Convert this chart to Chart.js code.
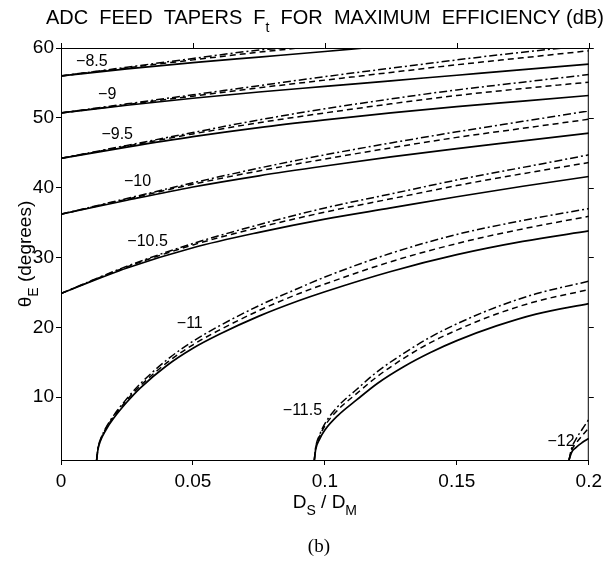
<!DOCTYPE html>
<html><head><meta charset="utf-8">
<script src="https://cdn.jsdelivr.net/npm/chart.js@4.4.1/dist/chart.umd.min.js"></script>
<style>html,body{margin:0;padding:0;background:#fff}</style>
</head><body>
<canvas id="c" width="607" height="563"></canvas>
<script>
// ---- data ----
const xTicks = [0, 0.05, 0.1, 0.15, 0.2];
const xTickLabels = ['0', '0.05', '0.1', '0.15', '0.2'];
const yTicks = [10, 20, 30, 40, 50, 60];
const xGrid = [0, 0.025, 0.05, 0.075, 0.1, 0.125, 0.15, 0.175, 0.2];

// level -8.5
const x85s = [0, 0.025, 0.05, 0.075, 0.1, 0.115];
const y85s = [56.0, 57.0, 57.9, 58.7, 59.5, 60.0];
const x85d = [0, 0.025, 0.05, 0.075, 0.09];
const y85d = [56.0, 57.15, 58.3, 59.4, 60.0];
const x85c = [0, 0.025, 0.05, 0.075, 0.085];
const y85c = [56.0, 57.25, 58.5, 59.7, 60.0];
// level -9
const y90s = [50.7, 51.8, 52.8, 53.7, 54.5, 55.3, 56.1, 56.9, 57.7];
const y90d = [50.7, 51.9, 53.1, 54.3, 55.4, 56.5, 57.6, 58.6, 59.6];
const x90c = [0, 0.025, 0.05, 0.075, 0.1, 0.125, 0.15, 0.175, 0.19];
const y90c = [50.7, 52.0, 53.3, 54.6, 55.9, 57.1, 58.3, 59.4, 60.0];
// level -9.5
const y95s = [44.2, 45.8, 47.3, 48.6, 49.7, 50.7, 51.6, 52.4, 53.2];
const y95d = [44.2, 45.95, 47.7, 49.3, 50.7, 52.0, 53.2, 54.2, 55.1];
const y95c = [44.2, 46.05, 47.9, 49.7, 51.3, 52.7, 54.0, 55.1, 56.2];
// level -10
const y100s = [36.2, 38.2, 40.1, 41.7, 43.1, 44.4, 45.6, 46.7, 47.8];
const y100d = [36.2, 38.35, 40.5, 42.4, 44.1, 45.7, 47.2, 48.5, 49.8];
const y100c = [36.2, 38.45, 40.7, 42.8, 44.7, 46.4, 48.0, 49.5, 51.0];
// level -10.5
const y105s = [24.85, 28.5, 31.4, 33.6, 35.5, 37.1, 38.7, 40.2, 41.6];
const y105d = [24.85, 28.65, 31.8, 34.3, 36.5, 38.4, 40.3, 42.0, 43.6];
const y105c = [24.85, 28.75, 32.0, 34.7, 37.1, 39.1, 41.1, 42.9, 44.7];
// level -11
const x110 = [0.0135, 0.014, 0.015, 0.017, 0.02, 0.025, 0.03, 0.04, 0.05, 0.06, 0.075, 0.09, 0.1, 0.125, 0.15, 0.175, 0.2];
const y110s = [1, 2.5, 3.8, 5.3, 7.0, 9.3, 11.3, 14.5, 17.0, 19.0, 21.6, 23.8, 25.1, 28.0, 30.4, 32.3, 33.8];
const y110d = [1, 2.6, 3.9, 5.5, 7.2, 9.6, 11.6, 14.9, 17.5, 19.6, 22.4, 24.8, 26.2, 29.4, 32.0, 34.1, 35.9];
const y110c = [1, 2.7, 4.0, 5.6, 7.4, 9.8, 11.9, 15.3, 18.0, 20.2, 23.1, 25.6, 27.2, 30.6, 33.3, 35.3, 37.0];
// level -11.5
const x115 = [0.096, 0.0965, 0.098, 0.1, 0.105, 0.112, 0.12, 0.13, 0.14, 0.15, 0.165, 0.18, 0.2];
const y115s = [1, 2.5, 4.0, 5.3, 7.4, 9.6, 12.0, 14.4, 16.4, 18.1, 20.2, 21.9, 23.4];
const y115d = [1, 2.7, 4.4, 5.9, 8.2, 10.5, 13.0, 15.6, 17.8, 19.6, 21.9, 23.7, 25.4];
const y115c = [1, 2.8, 4.6, 6.2, 8.7, 11.1, 13.7, 16.3, 18.6, 20.5, 22.9, 24.8, 26.6];
// level -12
const x120 = [0.1925, 0.1935, 0.195, 0.1975, 0.2];
const y120s = [1, 2.1, 2.75, 3.5, 4.1];
const y120d = [1, 2.4, 3.3, 4.5, 5.6];
const y120c = [1, 2.7, 3.9, 5.4, 6.8];

// contour labels: text and anchor in data coordinates
const levelText = ['\u22128.5', '\u22129', '\u22129.5', '\u221210', '\u221210.5', '\u221211', '\u221211.5', '\u221212'];
const levelLabelX = [0.0117, 0.0175, 0.0213, 0.029, 0.0328, 0.0488, 0.0915, 0.1895];
const levelLabelY = [58.1, 53.3, 47.6, 40.9, 32.25, 20.55, 8.1, 3.7];

// ---- build datasets ----
const pts = (xs, ys) => ys.map((y, i) => ({x: xs[i], y: y}));
const DASH = {s: [], d: [6, 4], c: [8, 3, 2, 3]};
const series = [
  [x85s, y85s, 's'], [x85d, y85d, 'd'], [x85c, y85c, 'c'],
  [xGrid, y90s, 's'], [xGrid, y90d, 'd'], [x90c, y90c, 'c'],
  [xGrid, y95s, 's'], [xGrid, y95d, 'd'], [xGrid, y95c, 'c'],
  [xGrid, y100s, 's'], [xGrid, y100d, 'd'], [xGrid, y100c, 'c'],
  [xGrid, y105s, 's'], [xGrid, y105d, 'd'], [xGrid, y105c, 'c'],
  [x110, y110s, 's'], [x110, y110d, 'd'], [x110, y110c, 'c'],
  [x115, y115s, 's'], [x115, y115d, 'd'], [x115, y115c, 'c'],
  [x120, y120s, 's'], [x120, y120d, 'd'], [x120, y120c, 'c']
];
const datasets = series.map(([xs, ys, st]) => ({
  data: pts(xs, ys),
  borderColor: '#000',
  borderWidth: st === 's' ? 1.7 : 1.5,
  borderDash: DASH[st],
  pointRadius: 0,
  fill: false,
  cubicInterpolationMode: 'monotone'
}));

const FONT = '"Liberation Sans", Arial, Helvetica, sans-serif';

function drawSub(ctx, parts, x, y, size) {
  let w = 0;
  parts.forEach(([t, sub]) => {
    ctx.font = (sub ? Math.round(size * 0.72) : size) + 'px ' + FONT;
    w += ctx.measureText(t).width;
  });
  let cx = x - w / 2;
  parts.forEach(([t, sub]) => {
    ctx.font = (sub ? Math.round(size * 0.72) : size) + 'px ' + FONT;
    ctx.fillText(t, cx, y + (sub ? size * 0.38 : 0));
    cx += ctx.measureText(t).width;
  });
}

const decor = {
  id: 'decor',
  afterDraw(chart) {
    const ctx = chart.ctx, a = chart.chartArea;
    const xs = chart.scales.x, ys = chart.scales.y;
    ctx.save();
    ctx.strokeStyle = '#000';
    ctx.lineWidth = 1;
    ctx.beginPath();
    ctx.moveTo(a.left, a.top + 0.5); ctx.lineTo(a.right, a.top + 0.5);
    ctx.moveTo(a.right - 0.5, a.top); ctx.lineTo(a.right - 0.5, a.bottom);
    ctx.stroke();
    ctx.beginPath();
    xTicks.forEach(v => { const p = Math.round(xs.getPixelForValue(v)) + 0.5; ctx.moveTo(p, a.top); ctx.lineTo(p, a.top - 5); });
    yTicks.forEach(v => { const p = Math.round(ys.getPixelForValue(v)) + 0.5; ctx.moveTo(a.right, p); ctx.lineTo(a.right + 5, p); });
    ctx.stroke();
    ctx.fillStyle = '#000';
    ctx.textBaseline = 'alphabetic';
    ctx.textAlign = 'left';
    drawSub(ctx, [['ADC  FEED  TAPERS  F', false], ['t', true], ['  FOR  MAXIMUM  EFFICIENCY (dB)', false]], (a.left + a.right) / 2, 24, 20);
    drawSub(ctx, [['D', false], ['S', true], [' / D', false], ['M', true]], (a.left + a.right) / 2, 508, 19);
    ctx.save();
    ctx.translate(31, (a.top + a.bottom) / 2);
    ctx.rotate(-Math.PI / 2);
    drawSub(ctx, [['\u03b8', false], ['E', true], [' (degrees)', false]], 0, 0, 19);
    ctx.restore();
    ctx.font = '19px "Liberation Serif", "Times New Roman", serif';
    ctx.textAlign = 'center';
    ctx.fillText('(b)', (a.left + a.right) / 2 - 6, 552);
    ctx.font = '16px ' + FONT;
    ctx.textBaseline = 'middle';
    levelText.forEach((t, i) => {
      ctx.fillText(t, xs.getPixelForValue(levelLabelX[i]), ys.getPixelForValue(levelLabelY[i]));
    });
    ctx.restore();
  }
};

new Chart(document.getElementById('c'), {
  type: 'line',
  data: {datasets},
  options: {
    responsive: false,
    animation: false,
    events: [],
    layout: {padding: {left: 0, right: 18, top: 48, bottom: 0}},
    plugins: {legend: {display: false}, title: {display: false}, tooltip: {enabled: false}},
    scales: {
      x: {
        type: 'linear', min: 0, max: 0.2,
        afterBuildTicks: s => { s.ticks = xTicks.map(v => ({value: v})); },
        afterFit: s => { s.height = 103; },
        ticks: {color: '#000', font: {family: FONT, size: 19}, padding: 5, maxRotation: 0,
          callback: (v) => { const i = xTicks.indexOf(v); return i >= 0 ? xTickLabels[i] : ''; }},
        grid: {display: true, drawOnChartArea: false, drawTicks: true, tickLength: 5, color: '#000'},
        border: {display: true, color: '#000', width: 1}
      },
      y: {
        type: 'linear', min: 1, max: 60,
        afterBuildTicks: s => { s.ticks = yTicks.map(v => ({value: v})); },
        afterFit: s => { s.width = 61; },
        ticks: {color: '#000', font: {family: FONT, size: 19}, padding: 2,
          callback: v => String(v)},
        grid: {display: true, drawOnChartArea: false, drawTicks: true, tickLength: 5, color: '#000'},
        border: {display: true, color: '#000', width: 1}
      }
    }
  },
  plugins: [decor]
});
</script>
</body></html>
